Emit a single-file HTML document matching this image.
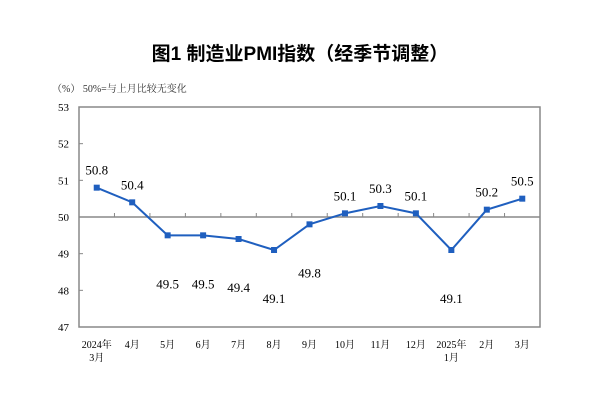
<!DOCTYPE html>
<html><head><meta charset="utf-8"><style>
body{margin:0;background:#fff;width:600px;height:403px;overflow:hidden}
svg{font-family:"Liberation Serif","Noto Serif CJK SC",serif}
</style></head><body>
<svg id="c" width="600" height="403">
<text x="300" y="60" text-anchor="middle" font-size="19" font-weight="bold" font-family="'Liberation Sans','Noto Sans CJK SC',sans-serif">图1  制造业PMI指数（经季节调整）</text>
<text x="52" y="92" font-size="10" fill="#333">（%） 50%=与上月比较无变化</text>
</svg>
<script>
const categories=["2024年|3月","4月","5月","6月","7月","8月","9月","10月","11月","12月","2025年|1月","2月","3月"];
const values=[50.8,50.4,49.5,49.5,49.4,49.1,49.8,50.1,50.3,50.1,49.1,50.2,50.5];
const yTicks=[47,48,49,50,51,52,53];
const NS="http://www.w3.org/2000/svg",svg=document.getElementById('c');
const L=79,R=540,T=107,B=327,bw=(R-L)/categories.length;
const x=i=>L+bw*(i+0.5), y=v=>B-(v-47)/6*(B-T);
function mk(t,a,p){const e=document.createElementNS(NS,t);for(const k in a)e.setAttribute(k,a[k]);(p||svg).appendChild(e);return e;}
const f=mk('rect',{x:L,y:T,width:R-L,height:B-T,fill:'none',stroke:'#888','stroke-width':1.5});


const bl=mk('line',{x1:L,x2:R,y1:y(50),y2:y(50),stroke:'#888','stroke-width':1.5});


yTicks.forEach(v=>{
 const tk=mk('line',{x1:L,x2:L+4,y1:y(v),y2:y(v),stroke:'#888'});
 
 
 const t=mk('text',{x:L-10,y:y(v)+4,'text-anchor':'end','font-size':11});
 t.textContent=v;
 
 
});
for(let i=1;i<categories.length;i++){
 const tk=mk('line',{x1:L+bw*i,x2:L+bw*i,y1:y(50),y2:y(50)-4,stroke:'#888'});
 
 
}
categories.forEach((c,i)=>{
 const parts=c.split('|');
 parts.forEach((p,j)=>{
  const t=mk('text',{x:x(i),y:348+j*13,'text-anchor':'middle','font-size':10});
  t.textContent=p;
  
  
 });
});
const ln=mk('polyline',{points:values.map((v,i)=>x(i)+','+y(v)).join(' '),fill:'none',stroke:'#1f5fbf','stroke-width':2});


values.forEach((v,i)=>{
 const m=mk('rect',{x:x(i)-3,y:y(v)-3,width:6,height:6,fill:'#1f5fbf'});
 
 
 const t=mk('text',{x:x(i),y:v>=50?y(v)-13:y(v)+53,'text-anchor':'middle','font-size':13});
 t.textContent=v.toFixed(1);
 
 
});
</script>
</body></html>
